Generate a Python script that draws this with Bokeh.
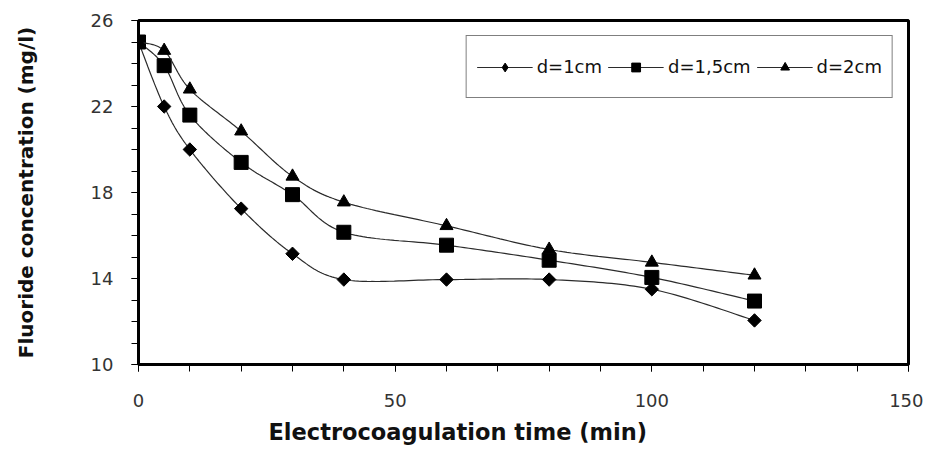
import numpy as np
from bokeh.plotting import figure
from bokeh.models import FixedTicker, Legend, LegendItem, Title
from bokeh.embed import file_html
from bokeh.resources import INLINE

# ---- data ----
time_min = [0, 5, 10, 20, 30, 40, 60, 80, 100, 120]
d_1cm = [25.0, 22.0, 20.0, 17.25, 15.15, 13.95, 13.95, 13.95, 13.5, 12.05]
d_15cm = [25.0, 23.9, 21.6, 19.4, 17.9, 16.15, 15.55, 14.85, 14.05, 12.95]
d_2cm = [25.0, 24.6, 22.8, 20.85, 18.75, 17.55, 16.45, 15.35, 14.75, 14.15]
series_labels = ["d=1cm", "d=1,5cm", "d=2cm"]
x_ticks = [0, 50, 100, 150]
y_ticks = [10, 14, 18, 22, 26]


def smooth(xs, ys, steps=24):
    """Excel-like smoothed line (Catmull-Rom Bezier) through the data points."""
    px = [xs[0]] + list(xs) + [xs[-1]]
    py = [ys[0]] + list(ys) + [ys[-1]]
    ox, oy = [], []
    t = np.linspace(0, 1, steps)
    for i in range(1, len(px) - 2):
        x0, x1, x2, x3 = px[i - 1], px[i], px[i + 1], px[i + 2]
        y0, y1, y2, y3 = py[i - 1], py[i], py[i + 1], py[i + 2]
        c1x, c1y = x1 + (x2 - x0) / 6, y1 + (y2 - y0) / 6
        c2x, c2y = x2 - (x3 - x1) / 6, y2 - (y3 - y1) / 6
        bx = (1 - t) ** 3 * x1 + 3 * (1 - t) ** 2 * t * c1x + 3 * (1 - t) * t ** 2 * c2x + t ** 3 * x2
        by = (1 - t) ** 3 * y1 + 3 * (1 - t) ** 2 * t * c1y + 3 * (1 - t) * t ** 2 * c2y + t ** 3 * y2
        ox.extend(bx.tolist())
        oy.extend(by.tolist())
    return ox, oy


p = figure(width=923, height=457, x_range=(0, 150), y_range=(10, 26),
           output_backend="svg", toolbar_location=None,
           min_border_left=138, min_border_right=15, min_border_top=20, min_border_bottom=93)

p.xgrid.visible = False
p.ygrid.visible = False
p.outline_line_color = "black"
p.outline_line_width = 3
p.background_fill_color = "white"
p.border_fill_color = "white"

p.xaxis.ticker = FixedTicker(ticks=x_ticks, minor_ticks=list(range(0, 151, 10)))
p.yaxis.ticker = FixedTicker(ticks=y_ticks, minor_ticks=list(range(10, 27, 1)))

for ax in (p.xaxis[0], p.yaxis[0]):
    ax.axis_line_width = 3
    ax.axis_line_color = "black"
    ax.major_tick_in = 0
    ax.minor_tick_in = 0
    ax.major_tick_out = 7
    ax.minor_tick_out = 7
    ax.major_tick_line_color = "black"
    ax.minor_tick_line_color = "black"
    ax.major_tick_line_width = 1
    ax.minor_tick_line_width = 1
    ax.major_label_text_font = "DejaVu Sans"
    ax.major_label_text_font_size = "18px"
    ax.major_label_text_color = "#333333"

p.xaxis.major_label_standoff = 22
p.yaxis.major_label_standoff = 18

p.yaxis.axis_label = "Fluoride concentration (mg/l)"
p.yaxis.axis_label_text_font = "DejaVu Sans"
p.yaxis.axis_label_text_font_style = "bold"
p.yaxis.axis_label_text_font_size = "20px"
p.yaxis.axis_label_text_color = "#111111"
p.yaxis.axis_label_standoff = 50

# x-axis title, placed (as in the original) left of the frame's centre
p.add_layout(Title(text="Electrocoagulation time (min)", align="left", offset=130,
                   text_font="DejaVu Sans", text_font_style="bold",
                   text_font_size="22.5px", text_color="#111111", standoff=14), "below")

line_color = "#2b2b2b"
specs = [
    (d_1cm, dict(marker="square", angle=np.pi / 4, size=9.5), dict(marker="diamond")),
    (d_15cm, dict(marker="square", angle=0, size=14), dict(marker="square")),
    (d_2cm, dict(marker="triangle", angle=0, size=13), dict(marker="triangle")),
]

items = []
for (vals, mk, mk_leg), lab in zip(specs, series_labels):
    sx, sy = smooth(time_min, vals)
    p.line(sx, sy, line_color=line_color, line_width=1.2)
    p.scatter(time_min, vals, fill_color="black", line_color="black", **mk)
    # legend-only glyphs, placed outside the visible range
    lr = p.line([-50, -40], [0, 0], line_color=line_color, line_width=1.2)
    sr = p.scatter([-50], [0], fill_color="black", line_color="black", size=9, **mk_leg)
    items.append(LegendItem(label=lab, renderers=[lr, sr]))

legend = Legend(items=items, orientation="horizontal", location="top_right",
                border_line_color="black", border_line_width=1,
                background_fill_color="white", background_fill_alpha=1.0,
                label_text_font="DejaVu Sans", label_text_font_size="18px",
                label_text_color="#111111",
                glyph_width=56, glyph_height=22, label_height=41,
                label_standoff=4, spacing=6, padding=10, margin=15)
p.add_layout(legend)

open("out.html", "w").write(file_html(p, INLINE))
